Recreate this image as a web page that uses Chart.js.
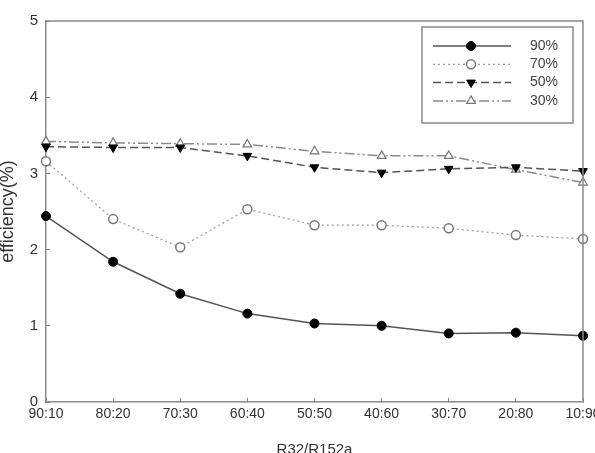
<!DOCTYPE html>
<html>
<head>
<meta charset="utf-8">
<script src="https://cdn.jsdelivr.net/npm/chart.js@4.4.1/dist/chart.umd.min.js"></script>
<style>
  html, body { margin: 0; padding: 0; background: #fff; }
  #wrap { width: 595px; height: 453px; }
</style>
</head>
<body>
<div id="wrap"><canvas id="effChart"></canvas></div>
<script>
var ratios = ['90:10', '80:20', '70:30', '60:40', '50:50', '40:60', '30:70', '20:80', '10:90'];
var seriesNames = ['90%', '70%', '50%', '30%'];
var eff90 = [2.44, 1.84, 1.42, 1.16, 1.03, 1.00, 0.90, 0.91, 0.87];
var eff70 = [3.16, 2.40, 2.03, 2.53, 2.32, 2.32, 2.28, 2.19, 2.14];
var eff50 = [3.35, 3.34, 3.34, 3.23, 3.08, 3.01, 3.06, 3.08, 3.03];
var eff30 = [3.42, 3.40, 3.39, 3.38, 3.29, 3.23, 3.23, 3.05, 2.88];
var yTicks = [0, 1, 2, 3, 4, 5];

var font = { family: 'Liberation Sans, Arial, sans-serif', size: 14 };
var axisGrey = '#8a8a8a';

// box around the plot + legend drawn in the upper right
var boxLegend = {
    id: 'boxLegend',
    afterDatasetsDraw: function(chart) {
        var ctx = chart.ctx;
        var a = chart.chartArea;
        ctx.save();
        ctx.strokeStyle = axisGrey;
        ctx.lineWidth = 1.5;
        ctx.beginPath();
        ctx.moveTo(a.left, a.top);
        ctx.lineTo(a.right, a.top);
        ctx.lineTo(a.right, a.bottom);
        ctx.stroke();

        // legend frame
        ctx.lineWidth = 1.5;
        ctx.strokeRect(422, 27, 151, 96);

        chart.data.datasets.forEach(function(ds, i) {
            var y = 46 + i * 18.3;
            ctx.strokeStyle = ds.borderColor;
            ctx.lineWidth = ds.borderWidth;
            ctx.setLineDash(ds.borderDash || []);
            ctx.beginPath();
            ctx.moveTo(433, y);
            ctx.lineTo(511, y);
            ctx.stroke();
            ctx.setLineDash([]);
            ctx.fillStyle = ds.pointBackgroundColor;
            ctx.strokeStyle = ds.pointBorderColor;
            ctx.lineWidth = ds.pointBorderWidth;
            Chart.helpers.drawPoint(ctx, {
                pointStyle: ds.pointStyle,
                rotation: ds.pointRotation || 0,
                radius: ds.pointRadius,
                borderWidth: ds.pointBorderWidth
            }, 471, y);
            ctx.fillStyle = '#444';
            ctx.font = '14px ' + font.family;
            ctx.textBaseline = 'middle';
            ctx.textAlign = 'left';
            ctx.fillText(ds.label, 530, y);
        });
        ctx.restore();
    }
};

var ctx = document.getElementById('effChart').getContext('2d');
var effChart = new Chart(ctx, {
    type: 'line',
    data: {
        labels: ratios,
        datasets: [{
            label: seriesNames[0],
            data: eff90,
            borderColor: '#555',
            borderWidth: 1.5,
            pointStyle: 'circle',
            pointRadius: 4.5,
            pointBackgroundColor: '#000',
            pointBorderColor: '#000',
            pointBorderWidth: 1
        }, {
            label: seriesNames[1],
            data: eff70,
            borderColor: '#9a9a9a',
            borderWidth: 1.2,
            borderDash: [2, 3],
            pointStyle: 'circle',
            pointRadius: 4.5,
            pointBackgroundColor: '#fff',
            pointBorderColor: '#777',
            pointBorderWidth: 1.5
        }, {
            label: seriesNames[2],
            data: eff50,
            borderColor: '#555',
            borderWidth: 1.5,
            borderDash: [8, 4],
            pointStyle: 'triangle',
            pointRotation: 180,
            pointRadius: 5,
            pointBackgroundColor: '#000',
            pointBorderColor: '#000',
            pointBorderWidth: 1
        }, {
            label: seriesNames[3],
            data: eff30,
            borderColor: '#8a8a8a',
            borderWidth: 1.5,
            borderDash: [10, 3, 2, 3, 2, 3],
            pointStyle: 'triangle',
            pointRadius: 5,
            pointBackgroundColor: '#fff',
            pointBorderColor: '#777',
            pointBorderWidth: 1.2
        }]
    },
    options: {
        responsive: true,
        maintainAspectRatio: false,
        animation: false,
        layout: { padding: { top: 17, right: 12, left: 0, bottom: 0 } },
        elements: { line: { tension: 0 } },
        datasets: { line: { clip: false } },
        plugins: {
            legend: { display: false },
            tooltip: { enabled: false }
        },
        scales: {
            x: {
                offset: false,
                grid: { drawOnChartArea: false, tickLength: -4, color: axisGrey, lineWidth: 1 },
                border: { color: axisGrey, width: 1.5 },
                ticks: { color: '#333', font: font, padding: 8, maxRotation: 0, autoSkip: false },
                title: { display: true, text: 'R32/R152a', color: '#333', font: { family: font.family, size: 15 }, padding: { top: 0, bottom: -6 } },
                afterFit: function(scale) {
                    scale.height = 51;
                    scale.paddingLeft = 0;
                    scale.paddingRight = 0;
                }
            },
            y: {
                min: 0,
                max: 5,
                afterBuildTicks: function(scale) {
                    scale.ticks = yTicks.map(function(v) { return { value: v }; });
                },
                grid: { drawOnChartArea: false, tickLength: -4, color: axisGrey, lineWidth: 1 },
                border: { color: axisGrey, width: 1.5 },
                ticks: { color: '#333', font: { family: font.family, size: 15 }, padding: 12 },
                title: { display: true, text: 'efficiency(%)', color: '#333', font: { family: font.family, size: 18 }, padding: { top: -3, bottom: 0 } },
                afterFit: function(scale) {
                    scale.width = 46;
                }
            }
        }
    },
    plugins: [boxLegend]
});
</script>
</body>
</html>
